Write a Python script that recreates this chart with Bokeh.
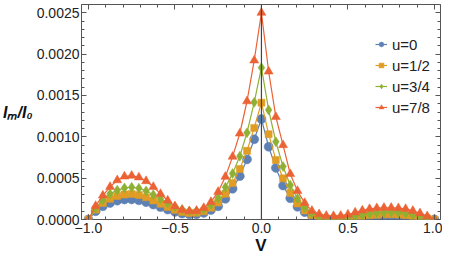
from bokeh.plotting import figure
from bokeh.models import (FixedTicker, PrintfTickFormatter, LinearAxis, Span,
                          Legend, LegendItem, Range1d)
from bokeh.embed import file_html
from bokeh.resources import INLINE

# grid of V values: k/24, k = -24..24
k_steps = list(range(-24, 25))
V = [k / 24 for k in k_steps]

# values in units of 1e-4
u0_e4 = [0, 1.0, 1.6, 2.0, 2.28, 2.42, 2.43, 2.32, 2.1, 1.8, 1.5, 1.2, 0.92, 0.72, 0.62, 0.64,
         0.8, 1.15, 1.6, 2.5, 3.72, 5.24, 7.27, 9.7, 12.15,
         8.8, 6.24, 4.1, 2.57, 1.54, 0.89, 0.42, 0.15, 0.07, 0.05, 0.07, 0.11, 0.17, 0.24, 0.31,
         0.36, 0.4, 0.4, 0.38, 0.33, 0.26, 0.17, 0.08, 0]
u12_e4 = [0, 1.2, 2.0, 2.5, 2.85, 3.02, 3.07, 2.95, 2.68, 2.3, 1.9, 1.52, 1.18, 0.92, 0.8, 0.82,
          1.0, 1.42, 2.05, 3.1, 4.4, 6.1, 8.3, 11.08, 14.13,
          10.32, 7.2, 4.98, 3.2, 1.95, 1.1, 0.55, 0.24, 0.12, 0.09, 0.11, 0.18, 0.28, 0.39, 0.5,
          0.58, 0.63, 0.64, 0.6, 0.52, 0.4, 0.26, 0.12, 0]
u34_e4 = [0, 1.35, 2.4, 3.1, 3.55, 3.82, 3.9, 3.78, 3.45, 3.0, 2.5, 2.0, 1.55, 1.2, 1.02, 1.02,
          1.25, 1.78, 2.6, 3.9, 5.55, 7.65, 10.5, 14.17, 18.36,
          13.25, 9.4, 6.4, 4.15, 2.55, 1.45, 0.75, 0.34, 0.18, 0.14, 0.17, 0.26, 0.4, 0.55, 0.7,
          0.81, 0.88, 0.9, 0.86, 0.76, 0.58, 0.38, 0.17, 0]
u78_e4 = [0, 1.65, 2.9, 3.95, 4.75, 5.2, 5.3, 5.1, 4.65, 3.95, 3.1, 2.3, 1.6, 1.15, 1.0, 1.05,
          1.4, 2.12, 3.35, 5.17, 7.6, 10.4, 14.3, 19.24, 25.0,
          17.9, 12.4, 9.0, 5.5, 3.46, 2.0, 1.05, 0.65, 0.45, 0.42, 0.45, 0.6, 0.85, 1.1, 1.28,
          1.38, 1.42, 1.42, 1.38, 1.28, 1.05, 0.75, 0.4, 0]

labels = ["u=0", "u=1/2", "u=3/4", "u=7/8"]
colors = ["#5E81B5", "#E19C24", "#8FB032", "#EB6235"]
markers = ["circle", "square", "diamond", "triangle"]
msizes = [9, 7, 10, 9]
series = [u0_e4, u12_e4, u34_e4, u78_e4]

x_major = [-1, -0.5, 0, 0.5, 1]
x_minor = [i / 10 for i in range(-10, 11)]
y_major = [0, 0.0005, 0.001, 0.0015, 0.002, 0.0025]
y_minor = [i / 10000 for i in range(0, 27)]

FONT = "Liberation Sans"
GRAY = "#555555"

p = figure(width=442, height=257, x_range=Range1d(-1.04, 1.035), y_range=Range1d(0, 0.0026),
           output_backend="svg", toolbar_location=None,
           min_border_left=76, min_border_right=2, min_border_top=4, min_border_bottom=36)
p.xgrid.visible = False
p.ygrid.visible = False
p.outline_line_color = GRAY
p.outline_line_width = 1
p.background_fill_color = "white"
p.border_fill_color = "white"


def style(ax, show_labels=True):
    ax.axis_line_color = None
    ax.major_tick_in = 5
    ax.major_tick_out = 0
    ax.minor_tick_in = 3
    ax.minor_tick_out = 0
    ax.major_tick_line_color = GRAY
    ax.minor_tick_line_color = GRAY
    ax.major_label_text_font = FONT
    ax.major_label_text_color = "#222222"
    ax.major_label_text_font_size = "14px"
    if not show_labels:
        ax.formatter = PrintfTickFormatter(format="")
        ax.major_label_text_color = None
        ax.major_label_standoff = 0


xt = FixedTicker(ticks=x_major, minor_ticks=x_minor)
yt = FixedTicker(ticks=y_major, minor_ticks=y_minor)

p.xaxis.ticker = xt
p.yaxis.ticker = yt
style(p.xaxis[0])
style(p.yaxis[0])
p.xaxis.major_label_overrides = {-1: "\u22121.0", -0.5: "\u22120.5", 0: "0.0", 0.5: "0.5", 1: "1.0"}
p.xaxis.major_label_standoff = 3
p.yaxis.formatter = PrintfTickFormatter(format="%.4f")
p.yaxis.major_label_standoff = 2

p.xaxis.axis_label = "V"
p.xaxis.axis_label_text_font = FONT
p.xaxis.axis_label_text_font_style = "bold"
p.xaxis.axis_label_text_font_size = "17px"
p.xaxis.axis_label_text_color = "#111111"
p.xaxis.axis_label_standoff = 0

p.yaxis.axis_label = "I\u2098/I\u2080"
p.yaxis.axis_label_orientation = "horizontal"
p.yaxis.axis_label_text_font = FONT
p.yaxis.axis_label_text_font_style = "bold italic"
p.yaxis.axis_label_text_font_size = "16px"
p.yaxis.axis_label_text_color = "#111111"
p.yaxis.axis_label_standoff = 1

top_ax = LinearAxis(ticker=FixedTicker(ticks=x_major, minor_ticks=x_minor))
right_ax = LinearAxis(ticker=FixedTicker(ticks=y_major, minor_ticks=y_minor))
style(top_ax, False)
style(right_ax, False)
p.add_layout(top_ax, "above")
p.add_layout(right_ax, "right")

items = []
for lab, col, mk, ms, s in zip(labels, colors, markers, msizes, series):
    yv = [val * 1e-4 for val in s]
    r1 = p.line(V, yv, line_color=col, line_width=1.2)
    r2 = p.scatter(V, yv, marker=mk, size=ms, fill_color=col, line_color=col, line_width=0.5)
    items.append(LegendItem(label=lab, renderers=[r1, r2]))

p.add_layout(Span(location=0, dimension="height", line_color="#444444", line_width=1.2))

legend = Legend(items=items, location=(294, 102))
legend.label_text_font = FONT
legend.label_text_font_size = "15px"
legend.label_text_color = "#222222"
legend.glyph_width = 12
legend.glyph_height = 20
legend.label_height = 20
legend.spacing = 1
legend.padding = 0
legend.margin = 0
legend.label_standoff = 5
legend.border_line_color = None
legend.background_fill_alpha = 0
p.add_layout(legend, "center")

open("out.html", "w").write(file_html(p, INLINE))
